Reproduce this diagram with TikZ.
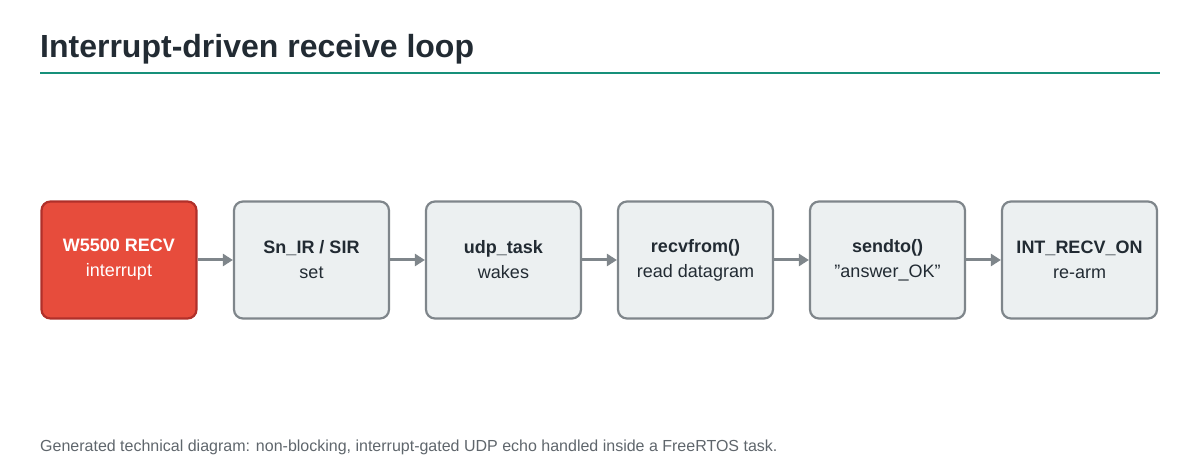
\documentclass[tikz,border=0pt]{standalone}
\usepackage{fontspec}
\setmainfont{Liberation Sans}
\usetikzlibrary{arrows.meta}
\definecolor{ttl}{HTML}{222B33}
\definecolor{teal}{HTML}{16907A}
\definecolor{redf}{HTML}{E74C3C}
\definecolor{redb}{HTML}{B0302A}
\definecolor{grf}{HTML}{ECF0F1}
\definecolor{grb}{HTML}{7F868B}
\definecolor{foot}{HTML}{5F666C}
\begin{document}
\begin{tikzpicture}[x=1pt,y=-1pt,
  stepbox/.style={draw=grb,fill=grf,line width=2.2pt,rounded corners=9pt,minimum width=155pt,minimum height=117pt,align=center,font=\fontsize{18}{25}\selectfont,text=ttl,inner sep=0pt},
  hotbox/.style={stepbox,draw=redb,fill=redf,text=white},
  arr/.style={draw=grb,line width=3pt,-{Triangle[length=10pt,width=12pt]}}]
\useasboundingbox (0,0) rectangle (1200,470);
\node[anchor=base west,text=ttl,font=\fontsize{32}{36}\selectfont\bfseries,inner sep=0pt] (title) at (40,58) {Interrupt-driven receive loop};
\coordinate (l1) at (40,73); \coordinate (l2) at (1160,73);
\draw[teal,line width=2.5pt] (l1) -- (l2);
\node[hotbox] (a) at (119,260) {\textbf{W5500 RECV}\\interrupt};
\node[stepbox] (b) at (311.5,260) {\textbf{Sn\_IR / SIR}\\set};
\node[stepbox] (c) at (503.5,260) {\textbf{udp\_task}\\wakes};
\node[stepbox] (d) at (695.5,260) {\textbf{recvfrom()}\\read datagram};
\node[stepbox] (e) at (887.5,260) {\textbf{sendto()}\\\char34 answer\_OK\char34};
\node[stepbox] (f) at (1079.5,260) {\textbf{INT\_RECV\_ON}\\re-arm};
\foreach \p/\q in {a/b,b/c,c/d,d/e,e/f} \draw[arr] (\p) -- (\q);
\node[anchor=base west,text=foot,font=\fontsize{16}{18}\selectfont,inner sep=0pt] (ft) at (40,451) {Generated technical diagram: non-blocking, interrupt-gated UDP echo handled inside a FreeRTOS task.};
\end{tikzpicture}
\end{document}
